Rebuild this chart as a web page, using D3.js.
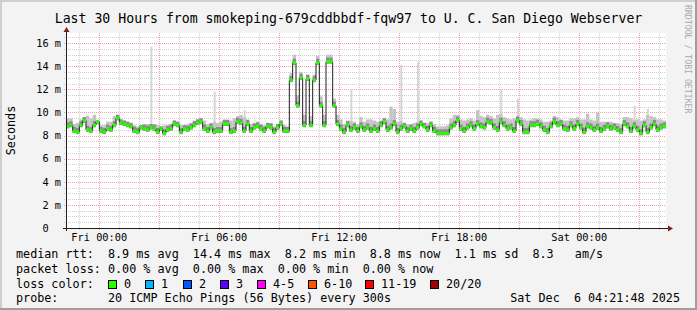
<!DOCTYPE html>
<html lang="en">
<head>
<meta charset="utf-8">
<title>smokeping latency</title>
<script src="https://d3js.org/d3.v7.min.js"></script>
<style>
  body { margin: 0; background: #f3f3f3; }
  svg text { font-family: "DejaVu Sans Mono", monospace; white-space: pre; }
</style>
</head>
<body>
<script>

// median rtt in ms, one value per 10 minutes, from Thu 22:21:48 to Sat 04:21:48
var median = [
  8.8,8.9,8.4,8.3,8.9,9.3,8.5,8.4,8.9,9.2,8.4,8.3,8.6,8.5,8.9,9.5,9.1,9.0,8.9,8.8,
  8.4,8.3,8.7,8.6,8.5,8.7,8.6,8.3,8.6,8.2,8.5,8.6,9.0,8.9,8.3,8.6,8.5,8.7,8.9,9.1,
  9.2,8.6,8.4,8.7,8.3,
  8.4,8.4,9.0,9.0,8.3,8.4,9.2,9.1,8.4,9.0,8.4,8.7,8.8,8.6,8.4,8.8,8.7,8.3,8.7,9.0,
  8.4,8.4,12.8,14.3,10.6,13.0,8.9,12.9,8.9,12.8,14.3,10.6,8.9,14.4,14.4,10.6,9.0,
  8.6,8.3,8.9,8.5,8.7,8.4,8.8,8.5,
  8.7,8.4,8.6,8.4,8.9,9.2,8.5,8.7,9.0,8.3,8.6,8.8,8.4,8.6,8.4,8.7,9.0,8.8,8.5,8.9,
  8.4,8.2,8.2,8.2,8.2,8.7,8.9,9.3,8.6,8.4,8.7,8.9,8.6,9.0,8.8,8.7,9.2,9.1,8.7,8.5,
  9.2,8.9,8.6,8.7,8.4,
  9.3,9.0,8.3,8.3,8.9,8.9,9.0,8.8,8.5,8.3,8.8,9.2,8.9,9.0,8.6,8.5,8.9,8.6,9.0,8.7,
  8.3,8.8,8.7,8.5,8.7,8.4,8.6,8.8,8.6,8.7,8.5,8.3,9.0,8.8,8.4,8.8,8.5,8.2,8.9,8.3,
  8.7,9.0,8.5,8.7,8.8
];

// upper edge of the smoke (ms), same steps
var smokeHi = [
  9.5,9.5,9.0,9.1,9.4,9.6,9.7,9.5,9.8,9.3,8.9,8.9,9.2,9.2,9.7,9.8,9.4,9.3,9.2,9.1,
  8.9,8.8,8.9,9.0,9.0,9.0,9.0,8.9,8.8,8.9,8.9,9.0,9.3,9.2,8.9,8.9,9.0,9.1,9.3,9.4,
  9.5,9.3,9.0,9.1,9.2,
  9.1,9.2,9.4,9.4,9.3,9.5,9.7,9.8,9.6,9.4,9.0,9.1,9.2,9.0,8.9,9.1,9.1,8.8,9.0,9.3,
  8.9,8.8,13.4,15.0,11.5,13.5,9.8,13.3,9.7,13.3,14.9,11.4,9.8,15.0,15.0,11.2,9.8,
  9.4,9.0,9.3,9.3,9.2,9.0,9.6,9.2,
  9.4,9.4,9.3,9.2,9.3,9.5,9.4,10.5,10.3,9.2,9.3,9.1,9.0,9.0,9.1,9.2,9.3,9.1,9.1,9.2,
  9.0,8.8,8.8,8.8,8.9,9.5,9.8,9.8,9.4,9.3,9.4,9.5,9.3,10.2,9.7,9.6,9.8,9.7,9.5,9.8,
  9.9,9.6,9.5,9.4,9.5,
  9.7,9.6,9.4,9.3,9.4,9.5,9.5,9.4,9.2,9.2,9.3,9.7,9.6,9.4,9.3,9.3,9.5,9.5,9.6,9.4,
  9.4,9.9,9.4,9.3,10.0,9.2,9.2,9.2,9.2,9.1,9.1,9.0,9.6,9.6,9.5,9.4,9.4,9.3,9.4,9.8,
  9.7,9.6,9.4,9.4,9.3
];

// single slow pings
var spikeIdx = [25, 44, 53, 85, 100, 105, 130, 135, 170, 174];
var spikeTop = [15.7, 11.8, 10.2, 12.0, 14.1, 14.4, 12.0, 11.2, 10.6, 10.3];

var yTicks = [0, 2, 4, 6, 8, 10, 12, 14, 16];
var xLabels = ["Fri 00:00", "Fri 06:00", "Fri 12:00", "Fri 18:00", "Sat 00:00"];

var lossLabels = ["0", "1", "2", "3", "4-5", "6-10", "11-19", "20/20"];
var lossColors = ["#26ff00", "#00b8ff", "#0059ff", "#5e00ff", "#ff00ff", "#ff5500", "#ff0000", "#a10000"];

var legendLines = [
  "median rtt:  8.9 ms avg  14.4 ms max  8.2 ms min  8.8 ms now  1.1 ms sd  8.3   am/s",
  "packet loss: 0.00 % avg  0.00 % max  0.00 % min  0.00 % now"
];

var w = 697, h = 310;
var pLeft = 66, pRight = 666, pTop = 33, pBottom = 228;

var tEnd = new Date(2025, 11, 6, 4, 21, 48);
var tStart = new Date(tEnd.getTime() - 30 * 3600 * 1000);
var step = 10 * 60 * 1000;
function tAt(i) { return new Date(tStart.getTime() + i * step); }

var x = d3.scaleTime().domain([tStart, tEnd]).range([pLeft, pRight]);
var y = d3.scaleLinear().domain([0, 16.88]).range([pBottom, pTop]);

var svg = d3.select("body").append("svg")
  .attr("width", w)
  .attr("height", h);

//background and frame
svg.append("rect").attr("width", w).attr("height", h).attr("fill", "#f3f3f3");
svg.append("rect").attr("width", w).attr("height", 2).attr("fill", "#cfcfcf");
svg.append("rect").attr("width", 2).attr("height", h).attr("fill", "#cfcfcf");
svg.append("rect").attr("y", h - 2).attr("width", w).attr("height", 2).attr("fill", "#9e9e9e");
svg.append("rect").attr("x", w - 2).attr("width", 2).attr("height", h).attr("fill", "#9e9e9e");

svg.append("rect")
  .attr("x", pLeft).attr("y", pTop)
  .attr("width", pRight - pLeft).attr("height", pBottom - pTop)
  .attr("fill", "#ffffff");

//grid
var grid = svg.append("g");
var hMinor = d3.range(0.5, 16.9, 0.5).filter(function(v) { return v % 2 != 0; });
grid.selectAll(".hmin").data(hMinor).enter().append("line")
  .attr("x1", pLeft - 2).attr("x2", pRight)
  .attr("y1", function(d) { return Math.round(y(d)) + 0.5; })
  .attr("y2", function(d) { return Math.round(y(d)) + 0.5; })
  .attr("stroke", "#cfcfcf").attr("stroke-dasharray", "1,1");
grid.selectAll(".hmaj").data(yTicks.slice(1)).enter().append("line")
  .attr("x1", pLeft - 2).attr("x2", pRight)
  .attr("y1", function(d) { return Math.round(y(d)) + 0.5; })
  .attr("y2", function(d) { return Math.round(y(d)) + 0.5; })
  .attr("stroke", "#f0a0a0").attr("stroke-dasharray", "1,1");

var hours = d3.timeHour.range(tStart, tEnd);
grid.selectAll(".v").data(hours).enter().append("line")
  .attr("x1", function(d) { return Math.round(x(d)) + 0.5; })
  .attr("x2", function(d) { return Math.round(x(d)) + 0.5; })
  .attr("y1", pTop).attr("y2", pBottom + 2)
  .attr("stroke", function(d) { return d.getHours() % 3 == 0 ? "#f0a0a0" : "#cfcfcf"; })
  .attr("stroke-dasharray", "1,1");

//smoke
var data = d3.range(median.length);
var plot = svg.append("g");
plot.selectAll(".smoke").data(data).enter().append("rect")
  .attr("x", function(i) { return x(tAt(i)); })
  .attr("width", function(i) { return x(tAt(i + 1)) - x(tAt(i)); })
  .attr("y", function(i) { return y(Math.max(smokeHi[i], median[i])); })
  .attr("height", function(i) { return y(median[i]) + 2 - y(Math.max(smokeHi[i], median[i])); })
  .attr("fill", "#c4c4c4");
plot.selectAll(".smoke2").data(data).enter().append("rect")
  .attr("x", function(i) { return x(tAt(i)); })
  .attr("width", function(i) { return x(tAt(i + 1)) - x(tAt(i)); })
  .attr("y", function(i) { return Math.max(y(smokeHi[i]), y(median[i]) - 4); })
  .attr("height", function(i) { return y(median[i]) + 2 - Math.max(y(smokeHi[i]), y(median[i]) - 4); })
  .attr("fill", "#8c8c8c");
plot.selectAll(".spike").data(spikeIdx).enter().append("rect")
  .attr("x", function(i) { return x(tAt(i)) + 1; })
  .attr("width", 2)
  .attr("y", function(i, k) { return y(spikeTop[k]); })
  .attr("height", function(i, k) { return y(smokeHi[i]) - y(spikeTop[k]); })
  .attr("fill", "#d6d6d6");

//median line
var pts = data.map(function(i) { return [tAt(i), median[i]]; });
pts.push([tEnd, median[median.length - 1]]);
var line = d3.line()
  .x(function(d) { return x(d[0]); })
  .y(function(d) { return y(d[1]); })
  .curve(d3.curveStepAfter);
plot.append("path")
  .attr("d", line(pts))
  .attr("fill", "none")
  .attr("stroke", "#202020")
  .attr("stroke-width", 1);
plot.selectAll(".med").data(data).enter().append("rect")
  .attr("x", function(i) { return x(tAt(i)); })
  .attr("width", function(i) { return x(tAt(i + 1)) - x(tAt(i)); })
  .attr("y", function(i) { return y(median[i]) - 1.5; })
  .attr("height", 3)
  .attr("fill", lossColors[0]);

//axes
var xAxis = d3.axisBottom(x)
  .tickValues(d3.timeHour.every(6).range(tStart, tEnd))
  .tickFormat(function(d, i) { return xLabels[i]; })
  .tickSize(0)
  .tickPadding(6);
var gx = svg.append("g")
  .attr("transform", "translate(0," + pBottom + ")")
  .call(xAxis);
gx.select(".domain").remove();
gx.selectAll("text").attr("font-family", "DejaVu Sans Mono").attr("font-size", "10.3px").attr("fill", "#000");

var yAxis = d3.axisLeft(y)
  .tickValues(yTicks)
  .tickFormat(function(d) { return d == 0 ? "0  " : d + " m"; })
  .tickSize(0)
  .tickPadding(5);
var gy = svg.append("g")
  .attr("transform", "translate(" + pLeft + ",0)")
  .call(yAxis);
gy.select(".domain").remove();
gy.selectAll("text").attr("font-family", "DejaVu Sans Mono").attr("font-size", "10.3px").attr("fill", "#000");

//axis lines with arrows
svg.append("line")
  .attr("x1", pLeft - 3).attr("x2", pRight + 4)
  .attr("y1", pBottom + 0.5).attr("y2", pBottom + 0.5)
  .attr("stroke", "#1f1f1f");
svg.append("line")
  .attr("x1", pLeft + 0.5).attr("x2", pLeft + 0.5)
  .attr("y1", pBottom + 3).attr("y2", pTop - 3)
  .attr("stroke", "#1f1f1f");
svg.append("path")
  .attr("d", "M" + (pRight + 2) + "," + (pBottom - 2.5) + "L" + (pRight + 7) + "," + (pBottom + 0.5) + "L" + (pRight + 2) + "," + (pBottom + 3.5) + "Z")
  .attr("fill", "#7f1f1f");
svg.append("path")
  .attr("d", "M" + (pLeft - 2.5) + "," + (pTop - 1) + "L" + (pLeft + 0.5) + "," + (pTop - 6) + "L" + (pLeft + 3.5) + "," + (pTop - 1) + "Z")
  .attr("fill", "#7f1f1f");

//titles
svg.append("text")
  .attr("x", w / 2).attr("y", 23)
  .attr("text-anchor", "middle")
  .attr("font-size", "13.2px")
  .text("Last 30 Hours from smokeping-679cddbbdf-fqw97 to U. C. San Diego Webserver");

svg.append("text")
  .attr("transform", "translate(15," + ((pTop + pBottom) / 2) + ") rotate(-90)")
  .attr("text-anchor", "middle")
  .attr("font-size", "11.76px")
  .text("Seconds");

svg.append("text")
  .attr("transform", "translate(685,5) rotate(90)")
  .attr("font-size", "8.2px")
  .attr("fill", "#aaaaaa")
  .text("RRDTOOL / TOBI OETIKER");

//legend
svg.selectAll(".leg").data(legendLines).enter().append("text")
  .attr("x", 16)
  .attr("y", function(d, i) { return 258 + i * 15; })
  .attr("font-size", "11.76px")
  .text(function(d) { return d; });

svg.append("text").attr("x", 16).attr("y", 288).attr("font-size", "11.76px").text("loss color:");
var boxX = [108, 145, 183, 220, 257, 308, 365, 430];
var lg = svg.selectAll(".loss").data(lossLabels).enter().append("g")
  .attr("transform", function(d, i) { return "translate(" + boxX[i] + ",280)"; });
lg.append("rect")
  .attr("x", 0.5).attr("y", 0.5).attr("width", 8).attr("height", 8)
  .attr("fill", function(d, i) { return lossColors[i]; })
  .attr("stroke", "#000");
lg.append("text")
  .attr("x", 16).attr("y", 8)
  .attr("font-size", "11.76px")
  .text(function(d) { return d; });

svg.append("text").attr("x", 16).attr("y", 302).attr("font-size", "11.76px").text("probe:");
svg.append("text").attr("x", 108).attr("y", 302).attr("font-size", "11.76px").text("20 ICMP Echo Pings (56 Bytes) every 300s");
svg.append("text").attr("x", 680).attr("y", 302).attr("text-anchor", "end").attr("font-size", "11.76px").text("Sat Dec  6 04:21:48 2025");

</script>
</body>
</html>
